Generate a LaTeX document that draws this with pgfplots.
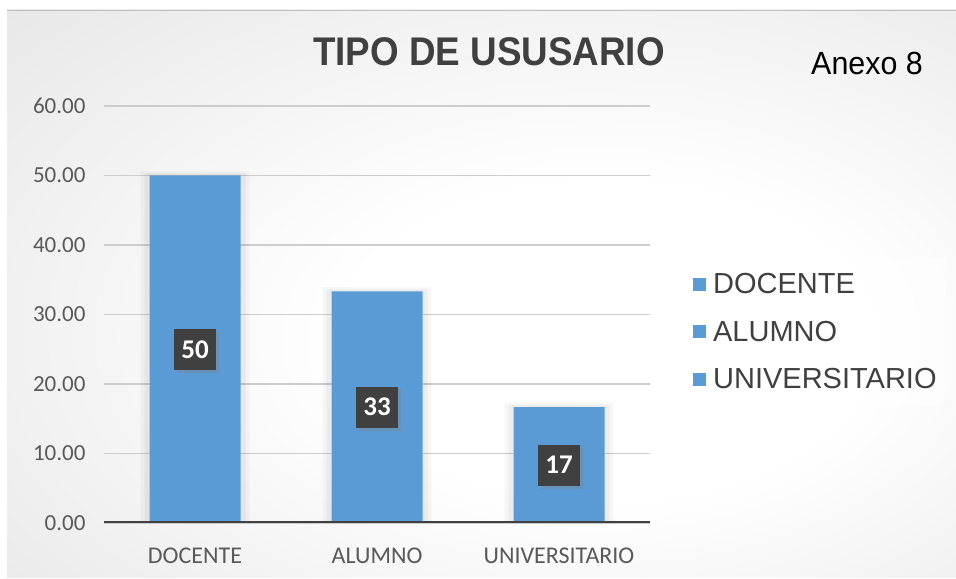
\documentclass[border=0pt]{standalone}
\usepackage{pgfplots}
\pgfplotsset{compat=1.18}
\usepackage{fontspec}
\setmainfont{Carlito}
\newfontfamily\arialf{Liberation Sans}
\usetikzlibrary{shadows}
\definecolor{barblue}{HTML}{5B9BD5}
\definecolor{lbl}{HTML}{404040}
\definecolor{txt}{HTML}{595959}
\definecolor{gridc}{HTML}{CDCDCD}
\pgfdeclareradialshading{bgshade}{\pgfpoint{8bp}{-5bp}}{color(0bp)=(white); color(14bp)=(white); color(80bp)=(black!23)}
\begin{document}
\begin{tikzpicture}[x=1bp,y=1bp]
\fill[white] (0,0) rectangle (956,579);
\shade[shading=bgshade] (7,1) rectangle (956,569);
\draw[black!25, line width=0.8bp] (7,569) -- (956,569);
\begin{axis}[
  at={(104bp,56bp)}, anchor=south west,
  scale only axis, width=546bp, height=417bp,
  xmin=-0.5, xmax=2.5, ymin=0, ymax=60,
  xtick={0,1,2}, xticklabels={DOCENTE,ALUMNO,UNIVERSITARIO},
  ytick={0,10,...,60},
  axis line style={draw=none},
  tick pos=left,
  xtick style={draw=none}, ytick style={draw=none},
  ymajorgrids, major grid style={draw=gridc, line width=1.5bp},
  xticklabel style={font=\fontsize{24bp}{24bp}\selectfont, text=txt, yshift=-21bp},
  yticklabel style={font=\fontsize{23bp}{23bp}\selectfont, text=txt, xshift=-15bp},
  yticklabel style={/pgf/number format/.cd, fixed, fixed zerofill, precision=2, assume math mode=true},
  legend style={at={(1.053,0.6355)}, anchor=north west, fill=white, fill opacity=0.5, text opacity=1, draw=none,
    font=\arialf\fontsize{29bp}{29bp}\selectfont, text=lbl, inner xsep=6bp, inner ysep=13bp, row sep=22bp},
  legend cell align=left,
  legend image code/.code={\fill[barblue, fill opacity=1, draw=none] (8bp,-6.5bp) rectangle (21bp,6.5bp); \path (0bp,0bp) -- (26bp,0bp);},
]
\addplot[ybar, bar width=109bp, fill=black, fill opacity=0.03, draw=none, forget plot] coordinates {(0,50.6) (1,33.93) (2,17.27)};
\addplot[ybar, bar width=101bp, fill=black, fill opacity=0.04, draw=none, forget plot] coordinates {(0,50.3) (1,33.63) (2,16.97)};
\addplot[ybar, bar width=91bp, fill=barblue, draw=none, forget plot] coordinates {(0,50) (1,33.33) (2,16.67)};
\draw[lbl, line width=3bp] (axis cs:-0.5,0) -- (axis cs:2.5,0);
\pgfplotsinvokeforeach{-0.5,0.5,1.5,2.5}{\draw[lbl, line width=2.5bp] (axis cs:#1,0) -- ++(0bp,-10bp);}
\addplot[draw=none, forget plot, nodes near coords, point meta=explicit symbolic,
  every node near coord/.append style={anchor=center, fill=lbl, text=white, inner sep=0pt,
    minimum width=42bp, minimum height=41bp, font=\bfseries\fontsize{27bp}{27bp}\selectfont,
    drop shadow={shadow xshift=3bp, shadow yshift=-3bp, opacity=0.35}}]
  coordinates {(0,25)[50] (1,16.67)[33] (2,8.33)[17]};
\addlegendimage{draw=none}
\addlegendimage{draw=none}
\addlegendimage{draw=none}
\legend{DOCENTE,ALUMNO,UNIVERSITARIO}
\end{axis}
\node[font=\arialf\bfseries\fontsize{40bp}{40bp}\selectfont, text=lbl, xscale=0.92] at (489,527) {TIPO DE USUSARIO};
\node[font=\arialf\fontsize{32bp}{32bp}\selectfont, text=black, xscale=0.95] at (867,516) {Anexo 8};
\pgfresetboundingbox
\useasboundingbox (0,0) rectangle (956,579);
\end{tikzpicture}
\end{document}
